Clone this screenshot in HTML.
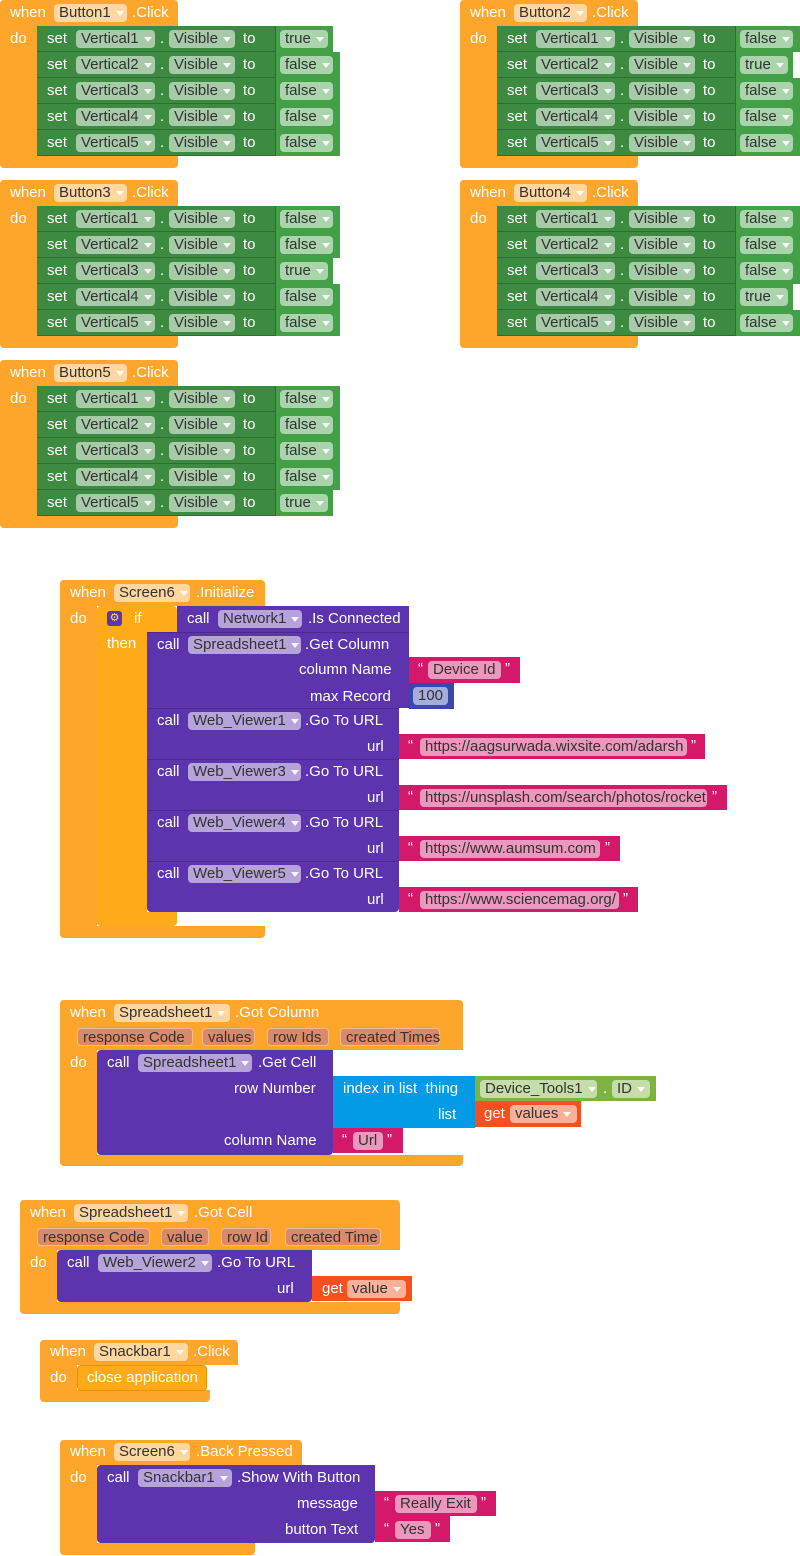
<!DOCTYPE html>
<html><head><meta charset="utf-8"><style>
*{margin:0;padding:0;box-sizing:border-box}
body{width:800px;height:1556px;background:#fff;position:relative;overflow:hidden;font-family:"Liberation Sans",sans-serif;font-size:15px}
div,span{position:absolute}
.o{background:#fea62b}
.y{background:#ffab19}
.g{background:#3d8b40;height:26px;top:0;left:0;border-bottom:1px solid #2f6e32}
.v{background:#43a047;height:26px;top:0;border-left:1px solid #2f6e32}
.p{background:#5c34ae}
.k{background:#d4196b}
.t{color:#fff;line-height:18px;white-space:nowrap}
.f{height:18px;line-height:18px;padding:0 5px;border-radius:4px;background:rgba(255,255,255,.55);color:#333;white-space:nowrap;overflow:hidden}
.f i{display:inline-block;width:0;height:0;border-left:4px solid transparent;border-right:4px solid transparent;border-top:5px solid rgba(255,255,255,.9);margin-left:5px;vertical-align:middle}
.prm{height:18px;line-height:18px;padding:0 5px;border-radius:4px;background:#d98a6a;color:#333;border:1px solid #f3b98f;white-space:nowrap}
.row{width:310px;height:26px}
.row .t,.row .f{top:4px}
</style></head><body>

<!-- Button1 -->
<div class="ev" style="left:0;top:0">
<div class="o" style="left:0;top:0;width:178px;height:26px;border-radius:4px 4px 0 0"></div>
<div class="o" style="left:0;top:0;width:37px;height:168px;border-radius:4px 0 0 4px"></div>
<div class="o" style="left:0;top:156px;width:178px;height:12px;border-radius:0 0 4px 4px"></div>
<span class="t" style="left:10px;top:4px">when</span><span class="f" style="left:54px;top:4px;width:73px">Button1<i></i></span><span class="t" style="left:132px;top:4px">.Click</span>
<span class="t" style="left:10px;top:30px">do</span>
<div class="row" style="left:37px;top:26px"><div class="g" style="width:238px"></div><span class="t" style="left:10px">set</span><span class="f" style="left:39px;width:79px">Vertical1<i></i></span><span class="t" style="left:123px">.</span><span class="f" style="left:132px;width:66px">Visible<i></i></span><span class="t" style="left:206px">to</span><div class="v" style="left:238px;width:58px"></div><span class="f" style="left:243px;width:48px">true<i></i></span></div>
<div class="row" style="left:37px;top:52px"><div class="g" style="width:238px"></div><span class="t" style="left:10px">set</span><span class="f" style="left:39px;width:79px">Vertical2<i></i></span><span class="t" style="left:123px">.</span><span class="f" style="left:132px;width:66px">Visible<i></i></span><span class="t" style="left:206px">to</span><div class="v" style="left:238px;width:65px"></div><span class="f" style="left:243px;width:53px">false<i></i></span></div>
<div class="row" style="left:37px;top:78px"><div class="g" style="width:238px"></div><span class="t" style="left:10px">set</span><span class="f" style="left:39px;width:79px">Vertical3<i></i></span><span class="t" style="left:123px">.</span><span class="f" style="left:132px;width:66px">Visible<i></i></span><span class="t" style="left:206px">to</span><div class="v" style="left:238px;width:65px"></div><span class="f" style="left:243px;width:53px">false<i></i></span></div>
<div class="row" style="left:37px;top:104px"><div class="g" style="width:238px"></div><span class="t" style="left:10px">set</span><span class="f" style="left:39px;width:79px">Vertical4<i></i></span><span class="t" style="left:123px">.</span><span class="f" style="left:132px;width:66px">Visible<i></i></span><span class="t" style="left:206px">to</span><div class="v" style="left:238px;width:65px"></div><span class="f" style="left:243px;width:53px">false<i></i></span></div>
<div class="row" style="left:37px;top:130px"><div class="g" style="width:238px"></div><span class="t" style="left:10px">set</span><span class="f" style="left:39px;width:79px">Vertical5<i></i></span><span class="t" style="left:123px">.</span><span class="f" style="left:132px;width:66px">Visible<i></i></span><span class="t" style="left:206px">to</span><div class="v" style="left:238px;width:65px"></div><span class="f" style="left:243px;width:53px">false<i></i></span></div>
</div>

<!-- Button2 -->
<div class="ev" style="left:460px;top:0">
<div class="o" style="left:0;top:0;width:178px;height:26px;border-radius:4px 4px 0 0"></div>
<div class="o" style="left:0;top:0;width:37px;height:168px;border-radius:4px 0 0 4px"></div>
<div class="o" style="left:0;top:156px;width:178px;height:12px;border-radius:0 0 4px 4px"></div>
<span class="t" style="left:10px;top:4px">when</span><span class="f" style="left:54px;top:4px;width:73px">Button2<i></i></span><span class="t" style="left:132px;top:4px">.Click</span>
<span class="t" style="left:10px;top:30px">do</span>
<div class="row" style="left:37px;top:26px"><div class="g" style="width:238px"></div><span class="t" style="left:10px">set</span><span class="f" style="left:39px;width:79px">Vertical1<i></i></span><span class="t" style="left:123px">.</span><span class="f" style="left:132px;width:66px">Visible<i></i></span><span class="t" style="left:206px">to</span><div class="v" style="left:238px;width:65px"></div><span class="f" style="left:243px;width:53px">false<i></i></span></div>
<div class="row" style="left:37px;top:52px"><div class="g" style="width:238px"></div><span class="t" style="left:10px">set</span><span class="f" style="left:39px;width:79px">Vertical2<i></i></span><span class="t" style="left:123px">.</span><span class="f" style="left:132px;width:66px">Visible<i></i></span><span class="t" style="left:206px">to</span><div class="v" style="left:238px;width:58px"></div><span class="f" style="left:243px;width:48px">true<i></i></span></div>
<div class="row" style="left:37px;top:78px"><div class="g" style="width:238px"></div><span class="t" style="left:10px">set</span><span class="f" style="left:39px;width:79px">Vertical3<i></i></span><span class="t" style="left:123px">.</span><span class="f" style="left:132px;width:66px">Visible<i></i></span><span class="t" style="left:206px">to</span><div class="v" style="left:238px;width:65px"></div><span class="f" style="left:243px;width:53px">false<i></i></span></div>
<div class="row" style="left:37px;top:104px"><div class="g" style="width:238px"></div><span class="t" style="left:10px">set</span><span class="f" style="left:39px;width:79px">Vertical4<i></i></span><span class="t" style="left:123px">.</span><span class="f" style="left:132px;width:66px">Visible<i></i></span><span class="t" style="left:206px">to</span><div class="v" style="left:238px;width:65px"></div><span class="f" style="left:243px;width:53px">false<i></i></span></div>
<div class="row" style="left:37px;top:130px"><div class="g" style="width:238px"></div><span class="t" style="left:10px">set</span><span class="f" style="left:39px;width:79px">Vertical5<i></i></span><span class="t" style="left:123px">.</span><span class="f" style="left:132px;width:66px">Visible<i></i></span><span class="t" style="left:206px">to</span><div class="v" style="left:238px;width:65px"></div><span class="f" style="left:243px;width:53px">false<i></i></span></div>
</div>

<!-- Button3 -->
<div class="ev" style="left:0;top:180px">
<div class="o" style="left:0;top:0;width:178px;height:26px;border-radius:4px 4px 0 0"></div>
<div class="o" style="left:0;top:0;width:37px;height:168px;border-radius:4px 0 0 4px"></div>
<div class="o" style="left:0;top:156px;width:178px;height:12px;border-radius:0 0 4px 4px"></div>
<span class="t" style="left:10px;top:4px">when</span><span class="f" style="left:54px;top:4px;width:73px">Button3<i></i></span><span class="t" style="left:132px;top:4px">.Click</span>
<span class="t" style="left:10px;top:30px">do</span>
<div class="row" style="left:37px;top:26px"><div class="g" style="width:238px"></div><span class="t" style="left:10px">set</span><span class="f" style="left:39px;width:79px">Vertical1<i></i></span><span class="t" style="left:123px">.</span><span class="f" style="left:132px;width:66px">Visible<i></i></span><span class="t" style="left:206px">to</span><div class="v" style="left:238px;width:65px"></div><span class="f" style="left:243px;width:53px">false<i></i></span></div>
<div class="row" style="left:37px;top:52px"><div class="g" style="width:238px"></div><span class="t" style="left:10px">set</span><span class="f" style="left:39px;width:79px">Vertical2<i></i></span><span class="t" style="left:123px">.</span><span class="f" style="left:132px;width:66px">Visible<i></i></span><span class="t" style="left:206px">to</span><div class="v" style="left:238px;width:65px"></div><span class="f" style="left:243px;width:53px">false<i></i></span></div>
<div class="row" style="left:37px;top:78px"><div class="g" style="width:238px"></div><span class="t" style="left:10px">set</span><span class="f" style="left:39px;width:79px">Vertical3<i></i></span><span class="t" style="left:123px">.</span><span class="f" style="left:132px;width:66px">Visible<i></i></span><span class="t" style="left:206px">to</span><div class="v" style="left:238px;width:58px"></div><span class="f" style="left:243px;width:48px">true<i></i></span></div>
<div class="row" style="left:37px;top:104px"><div class="g" style="width:238px"></div><span class="t" style="left:10px">set</span><span class="f" style="left:39px;width:79px">Vertical4<i></i></span><span class="t" style="left:123px">.</span><span class="f" style="left:132px;width:66px">Visible<i></i></span><span class="t" style="left:206px">to</span><div class="v" style="left:238px;width:65px"></div><span class="f" style="left:243px;width:53px">false<i></i></span></div>
<div class="row" style="left:37px;top:130px"><div class="g" style="width:238px"></div><span class="t" style="left:10px">set</span><span class="f" style="left:39px;width:79px">Vertical5<i></i></span><span class="t" style="left:123px">.</span><span class="f" style="left:132px;width:66px">Visible<i></i></span><span class="t" style="left:206px">to</span><div class="v" style="left:238px;width:65px"></div><span class="f" style="left:243px;width:53px">false<i></i></span></div>
</div>

<!-- Button4 -->
<div class="ev" style="left:460px;top:180px">
<div class="o" style="left:0;top:0;width:178px;height:26px;border-radius:4px 4px 0 0"></div>
<div class="o" style="left:0;top:0;width:37px;height:168px;border-radius:4px 0 0 4px"></div>
<div class="o" style="left:0;top:156px;width:178px;height:12px;border-radius:0 0 4px 4px"></div>
<span class="t" style="left:10px;top:4px">when</span><span class="f" style="left:54px;top:4px;width:73px">Button4<i></i></span><span class="t" style="left:132px;top:4px">.Click</span>
<span class="t" style="left:10px;top:30px">do</span>
<div class="row" style="left:37px;top:26px"><div class="g" style="width:238px"></div><span class="t" style="left:10px">set</span><span class="f" style="left:39px;width:79px">Vertical1<i></i></span><span class="t" style="left:123px">.</span><span class="f" style="left:132px;width:66px">Visible<i></i></span><span class="t" style="left:206px">to</span><div class="v" style="left:238px;width:65px"></div><span class="f" style="left:243px;width:53px">false<i></i></span></div>
<div class="row" style="left:37px;top:52px"><div class="g" style="width:238px"></div><span class="t" style="left:10px">set</span><span class="f" style="left:39px;width:79px">Vertical2<i></i></span><span class="t" style="left:123px">.</span><span class="f" style="left:132px;width:66px">Visible<i></i></span><span class="t" style="left:206px">to</span><div class="v" style="left:238px;width:65px"></div><span class="f" style="left:243px;width:53px">false<i></i></span></div>
<div class="row" style="left:37px;top:78px"><div class="g" style="width:238px"></div><span class="t" style="left:10px">set</span><span class="f" style="left:39px;width:79px">Vertical3<i></i></span><span class="t" style="left:123px">.</span><span class="f" style="left:132px;width:66px">Visible<i></i></span><span class="t" style="left:206px">to</span><div class="v" style="left:238px;width:65px"></div><span class="f" style="left:243px;width:53px">false<i></i></span></div>
<div class="row" style="left:37px;top:104px"><div class="g" style="width:238px"></div><span class="t" style="left:10px">set</span><span class="f" style="left:39px;width:79px">Vertical4<i></i></span><span class="t" style="left:123px">.</span><span class="f" style="left:132px;width:66px">Visible<i></i></span><span class="t" style="left:206px">to</span><div class="v" style="left:238px;width:58px"></div><span class="f" style="left:243px;width:48px">true<i></i></span></div>
<div class="row" style="left:37px;top:130px"><div class="g" style="width:238px"></div><span class="t" style="left:10px">set</span><span class="f" style="left:39px;width:79px">Vertical5<i></i></span><span class="t" style="left:123px">.</span><span class="f" style="left:132px;width:66px">Visible<i></i></span><span class="t" style="left:206px">to</span><div class="v" style="left:238px;width:65px"></div><span class="f" style="left:243px;width:53px">false<i></i></span></div>
</div>

<!-- Button5 -->
<div class="ev" style="left:0;top:360px">
<div class="o" style="left:0;top:0;width:178px;height:26px;border-radius:4px 4px 0 0"></div>
<div class="o" style="left:0;top:0;width:37px;height:168px;border-radius:4px 0 0 4px"></div>
<div class="o" style="left:0;top:156px;width:178px;height:12px;border-radius:0 0 4px 4px"></div>
<span class="t" style="left:10px;top:4px">when</span><span class="f" style="left:54px;top:4px;width:73px">Button5<i></i></span><span class="t" style="left:132px;top:4px">.Click</span>
<span class="t" style="left:10px;top:30px">do</span>
<div class="row" style="left:37px;top:26px"><div class="g" style="width:238px"></div><span class="t" style="left:10px">set</span><span class="f" style="left:39px;width:79px">Vertical1<i></i></span><span class="t" style="left:123px">.</span><span class="f" style="left:132px;width:66px">Visible<i></i></span><span class="t" style="left:206px">to</span><div class="v" style="left:238px;width:65px"></div><span class="f" style="left:243px;width:53px">false<i></i></span></div>
<div class="row" style="left:37px;top:52px"><div class="g" style="width:238px"></div><span class="t" style="left:10px">set</span><span class="f" style="left:39px;width:79px">Vertical2<i></i></span><span class="t" style="left:123px">.</span><span class="f" style="left:132px;width:66px">Visible<i></i></span><span class="t" style="left:206px">to</span><div class="v" style="left:238px;width:65px"></div><span class="f" style="left:243px;width:53px">false<i></i></span></div>
<div class="row" style="left:37px;top:78px"><div class="g" style="width:238px"></div><span class="t" style="left:10px">set</span><span class="f" style="left:39px;width:79px">Vertical3<i></i></span><span class="t" style="left:123px">.</span><span class="f" style="left:132px;width:66px">Visible<i></i></span><span class="t" style="left:206px">to</span><div class="v" style="left:238px;width:65px"></div><span class="f" style="left:243px;width:53px">false<i></i></span></div>
<div class="row" style="left:37px;top:104px"><div class="g" style="width:238px"></div><span class="t" style="left:10px">set</span><span class="f" style="left:39px;width:79px">Vertical4<i></i></span><span class="t" style="left:123px">.</span><span class="f" style="left:132px;width:66px">Visible<i></i></span><span class="t" style="left:206px">to</span><div class="v" style="left:238px;width:65px"></div><span class="f" style="left:243px;width:53px">false<i></i></span></div>
<div class="row" style="left:37px;top:130px"><div class="g" style="width:238px"></div><span class="t" style="left:10px">set</span><span class="f" style="left:39px;width:79px">Vertical5<i></i></span><span class="t" style="left:123px">.</span><span class="f" style="left:132px;width:66px">Visible<i></i></span><span class="t" style="left:206px">to</span><div class="v" style="left:238px;width:58px"></div><span class="f" style="left:243px;width:48px">true<i></i></span></div>
</div>

<!-- Screen6.Initialize -->
<div class="o" style="left:60px;top:580px;width:205px;height:26px;border-radius:4px 4px 0 0"></div>
<div class="o" style="left:60px;top:580px;width:37px;height:358px;border-radius:4px 0 0 4px"></div>
<div class="o" style="left:60px;top:926px;width:205px;height:12px;border-radius:0 0 4px 4px"></div>
<span class="t" style="left:70px;top:584px">when</span><span class="f" style="left:114px;top:584px;width:76px">Screen6<i></i></span><span class="t" style="left:196px;top:584px">.Initialize</span>
<span class="t" style="left:70px;top:610px">do</span>
<div class="y" style="left:97px;top:606px;width:80px;height:26px;border-radius:4px 4px 0 0"></div>
<div class="y" style="left:97px;top:606px;width:50px;height:320px;border-radius:4px 0 0 4px"></div>
<div class="y" style="left:97px;top:912px;width:80px;height:14px;border-radius:0 0 4px 4px"></div>
<div style="left:107px;top:611px;width:15px;height:15px;background:#5c34ae;border-radius:3px;color:#ffd27a;font-size:11px;line-height:15px;text-align:center">⚙</div>
<span class="t" style="left:134px;top:610px">if</span>
<span class="t" style="left:107px;top:635px">then</span>
<div class="p" style="left:177px;top:606px;width:232px;height:26px"></div>
<span class="t" style="left:187px;top:610px">call</span><span class="f" style="left:218px;top:610px;width:84px">Network1<i></i></span><span class="t" style="left:308px;top:610px">.Is Connected</span>
<div class="p" style="left:147px;top:632px;width:262px;height:76px;border-top:1px solid #4a2a8e"></div>
<span class="t" style="left:157px;top:636px">call</span><span class="f" style="left:188px;top:636px;width:113px">Spreadsheet1<i></i></span><span class="t" style="left:305px;top:636px">.Get Column</span>
<span class="t" style="left:299px;top:661px">column Name</span>
<div class="k" style="left:409px;top:657px;width:111px;height:26px"></div><span class="t" style="left:418px;top:660px">“</span><span class="f" style="left:428px;top:661px;width:73px">Device Id</span><span class="t" style="left:505px;top:660px">”</span>
<span class="t" style="left:310px;top:688px">max Record</span>
<div style="left:409px;top:683px;width:45px;height:26px;background:#3949ab"></div><span class="f" style="left:413px;top:687px;width:35px">100</span>
<div class="p" style="left:147px;top:708px;width:252px;height:51px;border-top:1px solid #4a2a8e"></div>
<span class="t" style="left:157px;top:712px">call</span><span class="f" style="left:188px;top:712px;width:113px">Web_Viewer1<i></i></span><span class="t" style="left:305px;top:712px">.Go To URL</span>
<span class="t" style="left:367px;top:738px">url</span>
<div class="k" style="left:399px;top:734px;width:306px;height:25px"></div><span class="t" style="left:408px;top:737px">“</span><span class="f" style="left:420px;top:738px;width:267px">https://aagsurwada.wixsite.com/adarsh</span><span class="t" style="left:691px;top:737px">”</span>
<div class="p" style="left:147px;top:759px;width:252px;height:51px;border-top:1px solid #4a2a8e"></div>
<span class="t" style="left:157px;top:763px">call</span><span class="f" style="left:188px;top:763px;width:113px">Web_Viewer3<i></i></span><span class="t" style="left:305px;top:763px">.Go To URL</span>
<span class="t" style="left:367px;top:789px">url</span>
<div class="k" style="left:399px;top:785px;width:328px;height:25px"></div><span class="t" style="left:408px;top:788px">“</span><span class="f" style="left:420px;top:789px;width:287px">https://unsplash.com/search/photos/rocket</span><span class="t" style="left:712px;top:788px">”</span>
<div class="p" style="left:147px;top:810px;width:252px;height:51px;border-top:1px solid #4a2a8e"></div>
<span class="t" style="left:157px;top:814px">call</span><span class="f" style="left:188px;top:814px;width:113px">Web_Viewer4<i></i></span><span class="t" style="left:305px;top:814px">.Go To URL</span>
<span class="t" style="left:367px;top:840px">url</span>
<div class="k" style="left:399px;top:836px;width:221px;height:25px"></div><span class="t" style="left:408px;top:839px">“</span><span class="f" style="left:420px;top:840px;width:180px">https://www.aumsum.com</span><span class="t" style="left:605px;top:839px">”</span>
<div class="p" style="left:147px;top:861px;width:252px;height:51px;border-top:1px solid #4a2a8e;border-radius:0 0 4px 4px"></div>
<span class="t" style="left:157px;top:865px">call</span><span class="f" style="left:188px;top:865px;width:113px">Web_Viewer5<i></i></span><span class="t" style="left:305px;top:865px">.Go To URL</span>
<span class="t" style="left:367px;top:891px">url</span>
<div class="k" style="left:399px;top:887px;width:239px;height:25px"></div><span class="t" style="left:408px;top:890px">“</span><span class="f" style="left:420px;top:891px;width:199px">https://www.sciencemag.org/</span><span class="t" style="left:623px;top:890px">”</span>

<!-- Spreadsheet1.GotColumn -->
<div class="o" style="left:60px;top:1000px;width:403px;height:50px;border-radius:4px 4px 0 0"></div>
<div class="o" style="left:60px;top:1000px;width:37px;height:166px;border-radius:4px 0 0 4px"></div>
<div class="o" style="left:60px;top:1155px;width:403px;height:11px;border-radius:0 0 4px 4px"></div>
<span class="t" style="left:70px;top:1004px">when</span><span class="f" style="left:114px;top:1004px;width:116px">Spreadsheet1<i></i></span><span class="t" style="left:235px;top:1004px">.Got Column</span>
<span class="prm" style="left:77px;top:1028px;width:116px">response Code</span><span class="prm" style="left:202px;top:1028px;width:53px">values</span><span class="prm" style="left:267px;top:1028px;width:62px">row Ids</span><span class="prm" style="left:340px;top:1028px;width:100px">created Times</span>
<span class="t" style="left:70px;top:1054px">do</span>
<div class="p" style="left:97px;top:1050px;width:236px;height:105px;border-radius:4px 0 4px 4px"></div>
<span class="t" style="left:107px;top:1054px">call</span><span class="f" style="left:138px;top:1054px;width:114px">Spreadsheet1<i></i></span><span class="t" style="left:258px;top:1054px">.Get Cell</span>
<span class="t" style="left:234px;top:1080px">row Number</span>
<div style="left:333px;top:1076px;width:142px;height:52px;background:#039be5"></div>
<span class="t" style="left:343px;top:1080px">index in list&nbsp; thing</span>
<span class="t" style="left:438px;top:1106px">list</span>
<div style="left:475px;top:1076px;width:181px;height:25px;background:#7cb342"></div>
<span class="f" style="left:480px;top:1080px;width:117px">Device_Tools1<i></i></span><span class="t" style="left:603px;top:1080px">.</span><span class="f" style="left:612px;top:1080px;width:38px">ID<i></i></span>
<div style="left:475px;top:1101px;width:106px;height:26px;background:#f4511e"></div>
<span class="t" style="left:484px;top:1105px">get</span><span class="f" style="left:510px;top:1105px;width:67px">values<i></i></span>
<span class="t" style="left:224px;top:1132px">column Name</span>
<div class="k" style="left:333px;top:1128px;width:70px;height:25px"></div><span class="t" style="left:342px;top:1131px">“</span><span class="f" style="left:353px;top:1132px;width:30px">Url</span><span class="t" style="left:387px;top:1131px">”</span>

<!-- Spreadsheet1.GotCell -->
<div class="o" style="left:20px;top:1200px;width:380px;height:50px;border-radius:4px 4px 0 0"></div>
<div class="o" style="left:20px;top:1200px;width:37px;height:114px;border-radius:4px 0 0 4px"></div>
<div class="o" style="left:20px;top:1302px;width:380px;height:12px;border-radius:0 0 4px 4px"></div>
<span class="t" style="left:30px;top:1204px">when</span><span class="f" style="left:74px;top:1204px;width:114px">Spreadsheet1<i></i></span><span class="t" style="left:194px;top:1204px">.Got Cell</span>
<span class="prm" style="left:37px;top:1228px;width:113px">response Code</span><span class="prm" style="left:161px;top:1228px;width:48px">value</span><span class="prm" style="left:221px;top:1228px;width:50px">row Id</span><span class="prm" style="left:285px;top:1228px;width:96px">created Time</span>
<span class="t" style="left:30px;top:1254px">do</span>
<div class="p" style="left:57px;top:1250px;width:255px;height:52px;border-radius:4px 0 4px 4px"></div>
<span class="t" style="left:67px;top:1254px">call</span><span class="f" style="left:98px;top:1254px;width:114px">Web_Viewer2<i></i></span><span class="t" style="left:217px;top:1254px">.Go To URL</span>
<span class="t" style="left:277px;top:1280px">url</span>
<div style="left:312px;top:1276px;width:100px;height:25px;background:#f4511e"></div>
<span class="t" style="left:322px;top:1280px">get</span><span class="f" style="left:347px;top:1280px;width:59px">value<i></i></span>

<!-- Snackbar1.Click -->
<div class="o" style="left:40px;top:1340px;width:198px;height:25px;border-radius:4px 4px 0 0"></div>
<div class="o" style="left:40px;top:1340px;width:37px;height:62px;border-radius:4px 0 0 4px"></div>
<div class="o" style="left:40px;top:1390px;width:170px;height:12px;border-radius:0 0 4px 4px"></div>
<span class="t" style="left:50px;top:1343px">when</span><span class="f" style="left:94px;top:1343px;width:94px">Snackbar1<i></i></span><span class="t" style="left:193px;top:1343px">.Click</span>
<span class="t" style="left:50px;top:1369px">do</span>
<div class="y" style="left:77px;top:1365px;width:130px;height:26px;border-radius:4px;border:1px solid #e69500"></div>
<span class="t" style="left:87px;top:1369px">close application</span>

<!-- Screen6.BackPressed -->
<div class="o" style="left:60px;top:1440px;width:242px;height:25px;border-radius:4px 4px 0 0"></div>
<div class="o" style="left:60px;top:1440px;width:37px;height:115px;border-radius:4px 0 0 4px"></div>
<div class="o" style="left:60px;top:1543px;width:195px;height:12px;border-radius:0 0 4px 4px"></div>
<span class="t" style="left:70px;top:1443px">when</span><span class="f" style="left:114px;top:1443px;width:76px">Screen6<i></i></span><span class="t" style="left:196px;top:1443px">.Back Pressed</span>
<span class="t" style="left:70px;top:1469px">do</span>
<div class="p" style="left:97px;top:1465px;width:278px;height:78px;border-radius:4px 0 4px 4px"></div>
<span class="t" style="left:107px;top:1469px">call</span><span class="f" style="left:138px;top:1469px;width:94px">Snackbar1<i></i></span><span class="t" style="left:237px;top:1469px">.Show With Button</span>
<span class="t" style="left:297px;top:1495px">message</span>
<div class="k" style="left:375px;top:1491px;width:121px;height:25px"></div><span class="t" style="left:384px;top:1494px">“</span><span class="f" style="left:395px;top:1495px;width:82px">Really Exit</span><span class="t" style="left:481px;top:1494px">”</span>
<span class="t" style="left:285px;top:1521px">button Text</span>
<div class="k" style="left:375px;top:1516px;width:75px;height:26px"></div><span class="t" style="left:384px;top:1520px">“</span><span class="f" style="left:395px;top:1521px;width:36px">Yes</span><span class="t" style="left:435px;top:1520px">”</span>

</body></html>
